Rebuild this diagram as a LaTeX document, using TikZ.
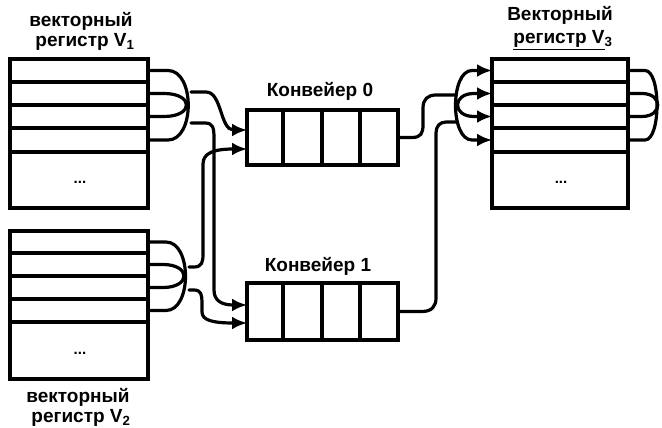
\documentclass[tikz,border=0pt]{standalone}
\usepackage{fontspec}
\setmainfont{Liberation Sans}
\usetikzlibrary{arrows.meta}
\tikzset{
  cell/.style={draw, line width=4.2pt, inner sep=0pt, outer sep=0pt},
  conn/.style={line width=3.2pt, line cap=round, line join=round},
  tip/.style={-{Latex[length=15pt,width=13pt]}},
  tips/.style={{Latex[length=15pt,width=13pt]}-{Latex[length=15pt,width=13pt]}},
  lbl/.style={font=\fontsize{19}{21}\selectfont\bfseries, inner sep=0pt},
  dots/.style={font=\fontsize{15}{15}\selectfont\bfseries, inner sep=0pt}
}
\begin{document}
\begin{tikzpicture}[x=1pt,y=-1pt]
\useasboundingbox (0,0) rectangle (662,428);
% ---------- register V1 ----------
\node[cell, minimum width=138pt, minimum height=23pt] (v1a) at (79,70.5) {};
\node[cell, minimum width=138pt, minimum height=23pt] (v1b) at (79,93.5) {};
\node[cell, minimum width=138pt, minimum height=23pt] (v1c) at (79,116.5) {};
\node[cell, minimum width=138pt, minimum height=24pt] (v1d) at (79,140) {};
\node[cell, minimum width=138pt, minimum height=56pt] (v1e) at (79,180) {};
\node[dots] (v1dots) at (80,182) {...};
\node[lbl] (v1t1) at (81,21) {векторный};
\node[lbl] (v1t2) at (85,42) {регистр V\textsubscript{1}};
% ---------- register V2 ----------
\node[cell, minimum width=138pt, minimum height=22pt] (v2a) at (79,242) {};
\node[cell, minimum width=138pt, minimum height=23pt] (v2b) at (79,264.5) {};
\node[cell, minimum width=138pt, minimum height=23pt] (v2c) at (79,287.5) {};
\node[cell, minimum width=138pt, minimum height=23pt] (v2d) at (79,310.5) {};
\node[cell, minimum width=138pt, minimum height=57pt] (v2e) at (79,350.5) {};
\node[dots] (v2dots) at (80,353) {...};
\node[lbl] (v2t1) at (78,397) {векторный};
\node[lbl] (v2t2) at (81,418) {регистр V\textsubscript{2}};
% ---------- register V3 ----------
\node[cell, minimum width=136pt, minimum height=23pt] (v3a) at (560,70.5) {};
\node[cell, minimum width=136pt, minimum height=23pt] (v3b) at (560,93.5) {};
\node[cell, minimum width=136pt, minimum height=23pt] (v3c) at (560,116.5) {};
\node[cell, minimum width=136pt, minimum height=24pt] (v3d) at (560,140) {};
\node[cell, minimum width=136pt, minimum height=56pt] (v3e) at (560,180) {};
\node[dots] (v3dots) at (561,182) {...};
\node[lbl] (v3t1) at (560,15) {Векторный};
\node[lbl] (v3t2) at (563,40) {\underline{регистр V}\textsubscript{3}};
% ---------- conveyor 0 ----------
\node[cell, minimum width=36pt, minimum height=55pt] (c0a) at (265,137.5) {};
\node[cell, minimum width=39pt, minimum height=55pt] (c0b) at (302.5,137.5) {};
\node[cell, minimum width=38pt, minimum height=55pt] (c0c) at (341,137.5) {};
\node[cell, minimum width=38pt, minimum height=55pt] (c0d) at (379,137.5) {};
\node[lbl] (c0t) at (320,91) {Конвейер 0};
% ---------- conveyor 1 ----------
\node[cell, minimum width=36pt, minimum height=57pt] (c1a) at (265,311.5) {};
\node[cell, minimum width=39pt, minimum height=57pt] (c1b) at (302.5,311.5) {};
\node[cell, minimum width=38pt, minimum height=57pt] (c1c) at (341,311.5) {};
\node[cell, minimum width=38pt, minimum height=57pt] (c1d) at (379,311.5) {};
\node[lbl] (c1t) at (318,266) {Конвейер 1};
% ---------- junction points ----------
\coordinate (j1u) at (191,92);
\coordinate (j1l) at (191,123);
\coordinate (j2u) at (189,267);
\coordinate (j2l) at (189,290);
\coordinate (j3u) at (455,95);
\coordinate (j3l) at (456,122);
% ---------- V1 fan ----------
\draw[conn] (v1a.east) -- ++(20,0) .. controls +(27,0) and +(27,0) .. ([xshift=20pt]v1d.east) -- (v1d.east);
\draw[conn] (v1b.east) -- ++(16,0) .. controls +(30,0) and +(30,0) .. ([xshift=16pt]v1c.east) -- (v1c.east);
\draw[conn,tip] (j1u) -- (206,92) .. controls (222,92) and (220,130) .. ([yshift=7.5pt]c0a.west);
\draw[conn,tip] (j1l) -- (205,123) .. controls (213,123) and (214,128) .. (214,138) -- (214,290) .. controls (214,301) and (222,305) .. ([yshift=6.5pt]c1a.west);
% ---------- V2 fan ----------
\draw[conn] (v2a.east) -- ++(18,0) .. controls +(26,0) and +(26,0) .. ([xshift=18pt]v2d.east) -- (v2d.east);
\draw[conn] (v2b.east) -- ++(15,0) .. controls +(28,0) and +(28,0) .. ([xshift=15pt]v2c.east) -- (v2c.east);
\draw[conn,tip] (j2u) -- (194,267) .. controls (202,267) and (203,262) .. (203,254) -- (203,164) .. controls (203,153) and (214,149) .. ([yshift=-11.5pt]c0a.west);
\draw[conn,tip] (j2l) -- (194,290) .. controls (201,290) and (202,295) .. (202,302) -- (202,312) .. controls (202,320) and (212,323) .. ([yshift=-11.5pt]c1a.west);
% ---------- V3 fan ----------
\draw[conn,tips] (v3a.west) -- ++(-20,0) .. controls +(-22,0) and +(-22,0) .. ([xshift=-20pt]v3d.west) -- (v3d.west);
\draw[conn,tips] (v3b.west) -- ++(-18,0) .. controls +(-22,0) and +(-22,0) .. ([xshift=-18pt]v3c.west) -- (v3c.west);
\draw[conn] (c0d.east) -- (412,137.5) .. controls (421,137.5) and (423,133) .. (423,125) -- (423,108) .. controls (423,99) and (428,95) .. (436,95) -- (j3u);
\draw[conn] (c1d.east) -- (422,311.5) .. controls (432,311.5) and (436,306) .. (436,298) -- (436,133) .. controls (436,126) and (440,122) .. (446,122) -- (j3l);
% ---------- V3 right loops ----------
\draw[conn] (v3a.east) -- ++(17,0) .. controls +(16,0) and +(16,0) .. ([xshift=17pt]v3d.east) -- (v3d.east);
\draw[conn] (v3b.east) -- ++(14,0) .. controls +(21,0) and +(21,0) .. ([xshift=14pt]v3c.east) -- (v3c.east);
\end{tikzpicture}
\end{document}
